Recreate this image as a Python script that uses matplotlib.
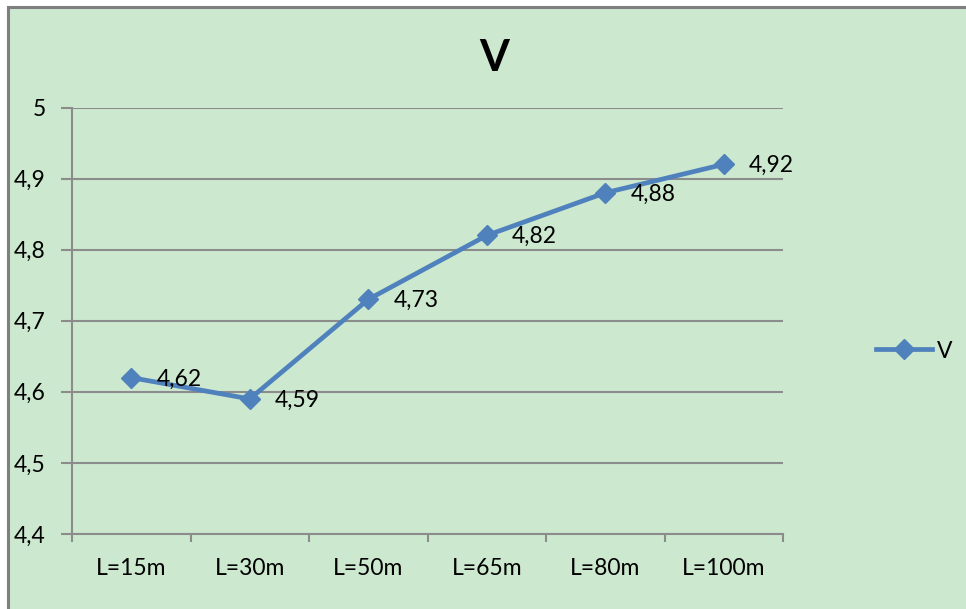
import matplotlib
matplotlib.use("Agg")
import matplotlib.pyplot as plt
from matplotlib.patches import Rectangle
from matplotlib.ticker import FixedLocator, FuncFormatter, NullFormatter

# Data
categories = ["L=15m", "L=30m", "L=50m", "L=65m", "L=80m", "L=100m"]
values = [4.62, 4.59, 4.73, 4.82, 4.88, 4.92]
series_name = "V"
y_ticks = [4.4, 4.5, 4.6, 4.7, 4.8, 4.9, 5.0]

BG = "#CCE8CF"
LINE = "#4F81BD"
GRID = "#8C8C8C"
FONT = "Lato"
FS = 16.5

W, H = 966, 609
fig = plt.figure(figsize=(W / 100, H / 100), dpi=100)
fig.patch.set_facecolor("white")

# Chart area with a gray frame (right and bottom edges run off the canvas)
fig.patches.append(Rectangle((8 / W, -0.1), 1.0, 1.1 - 7 / H,
                             transform=fig.transFigure, facecolor=BG,
                             edgecolor="#7F7F7F", linewidth=2.2, zorder=-10))

ax = fig.add_axes([72 / W, (H - 534) / H, (783 - 72) / W, (534 - 107.5) / H])
ax.set_facecolor("none")

x = [i + 0.5 for i in range(len(categories))]
line, = ax.plot(x, values, color=LINE, linewidth=3.4, marker="D", markersize=10,
                markerfacecolor=LINE, markeredgecolor=LINE, label=series_name,
                zorder=3, clip_on=False)

for xi, v in zip(x, values):
    ax.annotate(f"{v:.2f}".replace(".", ","), (xi, v), xytext=(18, -1),
                textcoords="offset points", ha="left", va="center",
                fontsize=FS, family=FONT, color="black", zorder=4)

ax.set_xlim(0, len(categories))
ax.set_ylim(4.4, 5.0)

# Category axis: ticks at boundaries, labels centred between them
ax.xaxis.set_major_locator(FixedLocator(list(range(len(categories) + 1))))
ax.xaxis.set_major_formatter(NullFormatter())
ax.xaxis.set_minor_locator(FixedLocator(x))
ax.set_xticklabels(categories, minor=True)
ax.tick_params(axis="x", which="major", direction="out", length=6, width=1.5,
               color=GRID)
ax.tick_params(axis="x", which="minor", length=0, pad=17, labelsize=FS)

ax.yaxis.set_major_locator(FixedLocator(y_ticks))
ax.yaxis.set_major_formatter(FuncFormatter(
    lambda v, p: f"{v:.1f}".rstrip("0").rstrip(".").replace(".", ",")
    if abs(v - round(v)) > 1e-9 else f"{int(round(v))}"))
ax.tick_params(axis="y", direction="out", length=8, width=1.5, color=GRID,
               pad=11, labelsize=FS)

for lab in ax.get_xticklabels(minor=True) + ax.get_yticklabels():
    lab.set_family(FONT)

ax.grid(axis="y", color=GRID, linewidth=1.5, zorder=0)
ax.set_axisbelow(True)
for s in ["top", "right"]:
    ax.spines[s].set_visible(False)
for s in ["left", "bottom"]:
    ax.spines[s].set_color(GRID)
    ax.spines[s].set_linewidth(1.5)

fig.text(494 / W, 1 - 58 / H, "V", ha="center", va="center", fontsize=31,
         fontweight="bold", family=FONT)

fig.legend(handles=[line], labels=[series_name], loc="center left",
           bbox_to_anchor=(876 / W, 1 - 351 / H), frameon=False,
           borderaxespad=0, borderpad=0,
           handlelength=2.45, handletextpad=0.2, numpoints=1,
           prop={"family": FONT, "size": FS})

fig.savefig("out.png", dpi=100, facecolor=fig.get_facecolor())
